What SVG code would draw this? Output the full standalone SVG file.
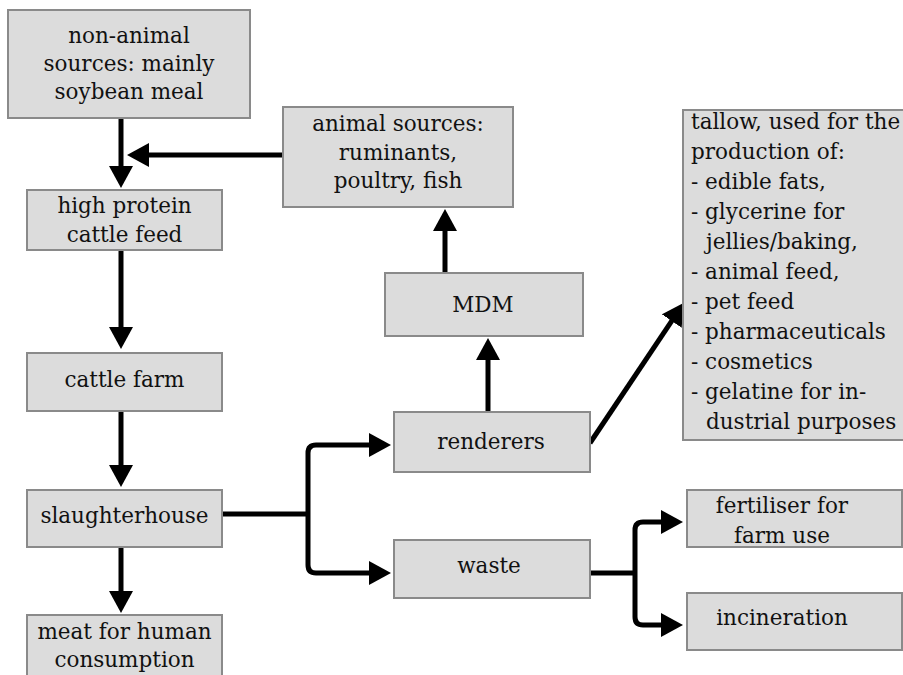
<svg xmlns="http://www.w3.org/2000/svg" width="903" height="675" viewBox="0 0 903 675">
  <style>
    .box { fill: #dcdcdc; stroke: #8a8a8a; stroke-width: 2; }
    .lbl { font-family: "DejaVu Serif", "Liberation Serif", serif; font-size: 21.5px; fill: #111; }
    .c { text-anchor: middle; }
    .wire { fill: none; stroke: #000; stroke-width: 5; }
  </style>
  <defs>
    <marker id="head" viewBox="0 0 22 24" refX="2" refY="12" markerWidth="22" markerHeight="24" markerUnits="userSpaceOnUse" orient="auto">
      <path d="M0,0 L22,12 L0,24 z" fill="#000"/>
    </marker>
  </defs>
  <rect width="903" height="675" fill="#fff"/>

  <g id="connectors">
    <path class="wire" d="M121,118 V168" marker-end="url(#head)"/>
    <path class="wire" d="M283,155 H147" marker-end="url(#head)"/>
    <path class="wire" d="M121,250 V329" marker-end="url(#head)"/>
    <path class="wire" d="M121,411 V467" marker-end="url(#head)"/>
    <path class="wire" d="M121,547 V593" marker-end="url(#head)"/>
    <path class="wire" d="M222,514 H308"/>
    <path class="wire" d="M308,514 V453 Q308,445 316,445 H371" marker-end="url(#head)"/>
    <path class="wire" d="M308,514 V565 Q308,573 316,573 H371" marker-end="url(#head)"/>
    <path class="wire" d="M488,412 V358" marker-end="url(#head)"/>
    <path class="wire" d="M445,273 V229" marker-end="url(#head)"/>
    <path class="wire" d="M590,443 L672.8,319.3" marker-end="url(#head)"/>
    <path class="wire" d="M588,573 H635"/>
    <path class="wire" d="M635,573 V530 Q635,522 643,522 H663" marker-end="url(#head)"/>
    <path class="wire" d="M635,573 V617 Q635,625 643,625 H663" marker-end="url(#head)"/>
  </g>

  <g id="non-animal">
    <rect class="box" x="8" y="10" width="242" height="108"/>
    <text class="lbl c" x="129" y="43">non-animal</text>
    <text class="lbl c" x="129" y="71">sources: mainly</text>
    <text class="lbl c" x="129" y="99">soybean meal</text>
  </g>

  <g id="animal-sources">
    <rect class="box" x="283" y="107" width="230" height="100"/>
    <text class="lbl c" x="398" y="131">animal sources:</text>
    <text class="lbl c" x="398" y="159.5">ruminants,</text>
    <text class="lbl c" x="398" y="188">poultry, fish</text>
  </g>

  <g id="cattle-feed">
    <rect class="box" x="27" y="190" width="195" height="60"/>
    <text class="lbl c" x="124.5" y="213">high protein</text>
    <text class="lbl c" x="124.5" y="242">cattle feed</text>
  </g>

  <g id="cattle-farm">
    <rect class="box" x="27" y="353" width="195" height="58"/>
    <text class="lbl c" x="124.5" y="387">cattle farm</text>
  </g>

  <g id="slaughterhouse">
    <rect class="box" x="27" y="490" width="195" height="57"/>
    <text class="lbl c" x="124.5" y="523">slaughterhouse</text>
  </g>

  <g id="meat">
    <rect class="box" x="27" y="615" width="195" height="70"/>
    <text class="lbl c" x="124.5" y="639">meat for human</text>
    <text class="lbl c" x="124.5" y="667">consumption</text>
  </g>

  <g id="mdm">
    <rect class="box" x="385" y="273" width="198" height="63"/>
    <text class="lbl c" x="483" y="312">MDM</text>
  </g>

  <g id="renderers">
    <rect class="box" x="394" y="412" width="196" height="60"/>
    <text class="lbl c" x="491" y="449">renderers</text>
  </g>

  <g id="waste">
    <rect class="box" x="394" y="540" width="196" height="58"/>
    <text class="lbl c" x="489" y="573">waste</text>
  </g>

  <g id="tallow">
    <rect class="box" x="683" y="110" width="230" height="330"/>
    <text class="lbl" x="691" y="129">tallow, used for the</text>
    <text class="lbl" x="691" y="159">production of:</text>
    <text class="lbl" x="691" y="189">- edible fats,</text>
    <text class="lbl" x="691" y="219">- glycerine for</text>
    <text class="lbl" x="706" y="249">jellies/baking,</text>
    <text class="lbl" x="691" y="279">- animal feed,</text>
    <text class="lbl" x="691" y="309">- pet feed</text>
    <text class="lbl" x="691" y="339">- pharmaceuticals</text>
    <text class="lbl" x="691" y="369">- cosmetics</text>
    <text class="lbl" x="691" y="399">- gelatine for in-</text>
    <text class="lbl" x="706" y="429">dustrial purposes</text>
  </g>

  <g id="fertiliser">
    <rect class="box" x="687" y="490" width="215" height="57"/>
    <text class="lbl c" x="782" y="513">fertiliser for</text>
    <text class="lbl c" x="782" y="543">farm use</text>
  </g>

  <g id="incineration">
    <rect class="box" x="687" y="593" width="215" height="57"/>
    <text class="lbl c" x="782" y="625">incineration</text>
  </g>
</svg>
